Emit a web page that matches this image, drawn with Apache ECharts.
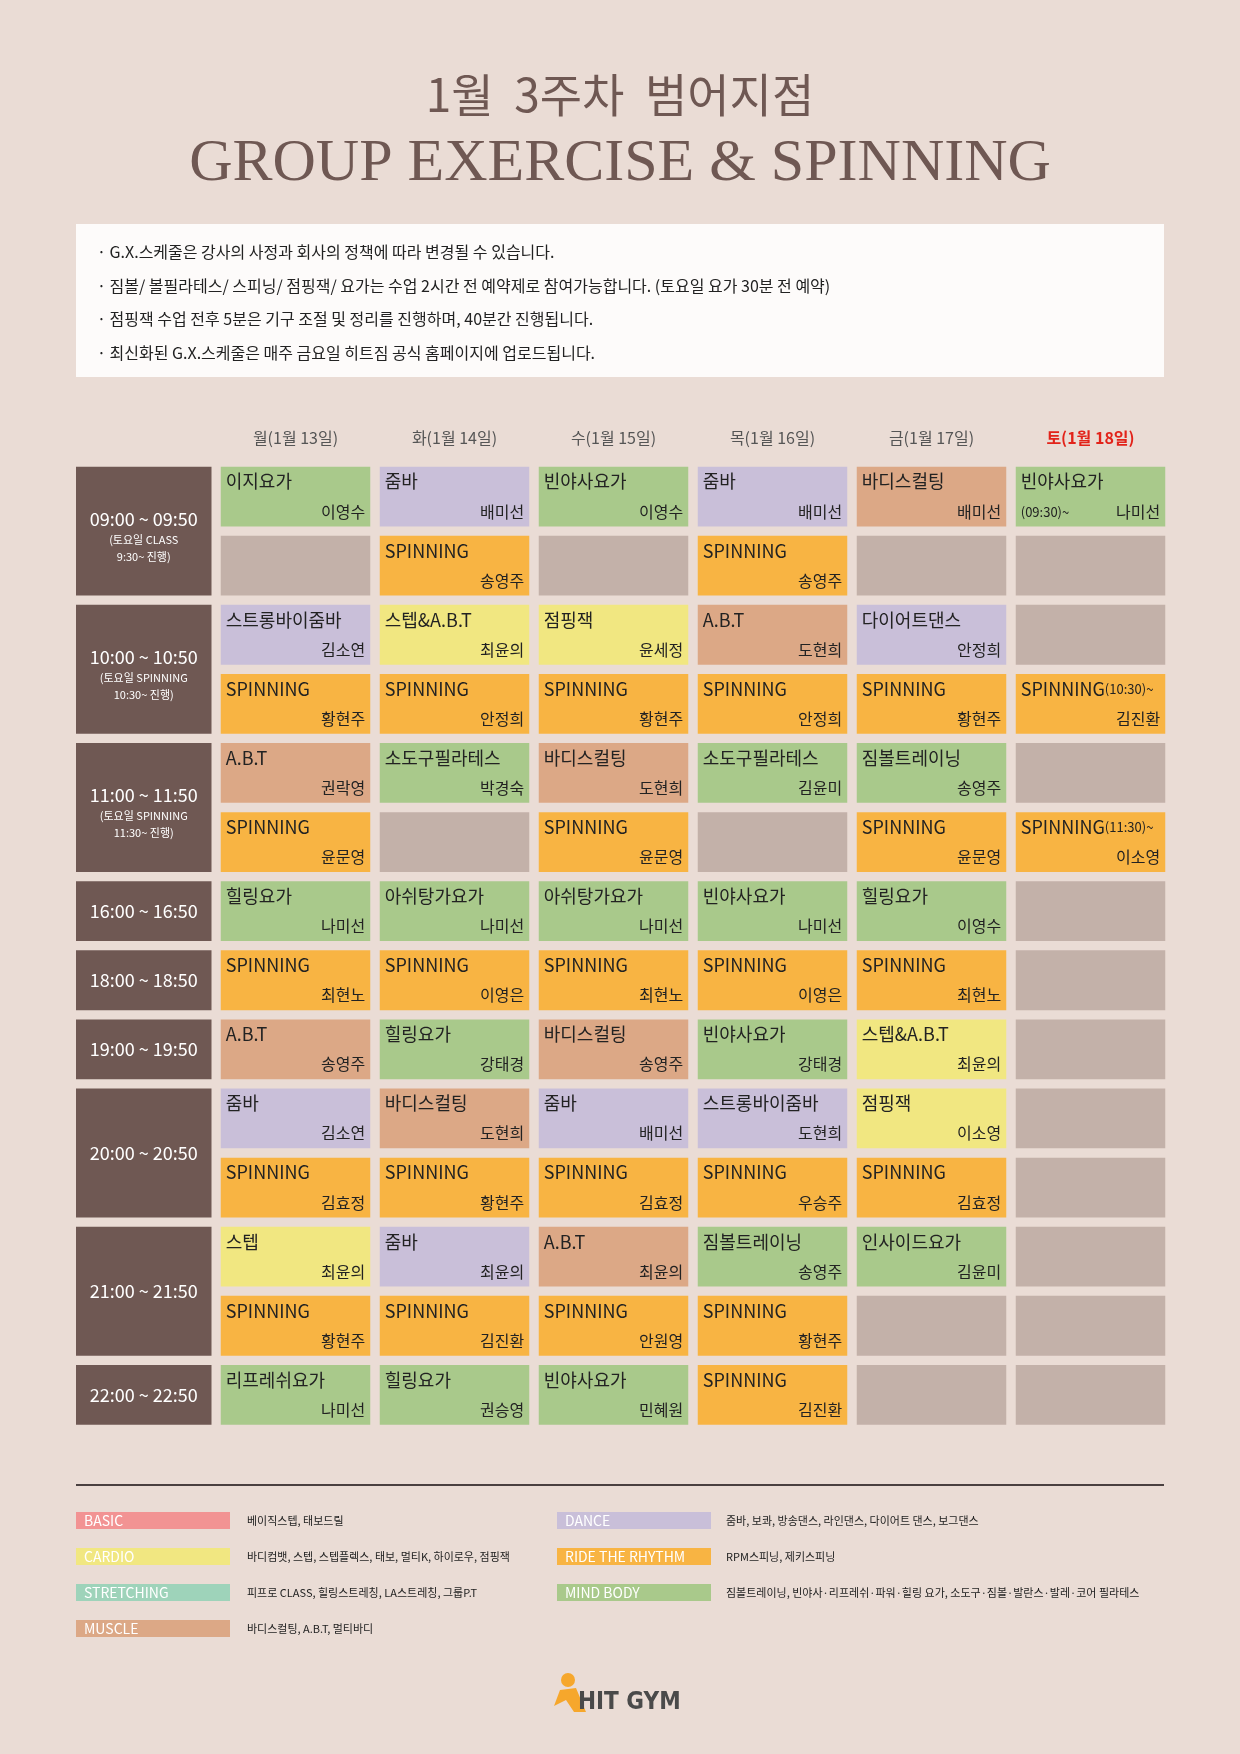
<!DOCTYPE html>
<html><head><meta charset="utf-8">
<script src="https://cdn.jsdelivr.net/npm/echarts@6/dist/echarts.min.js"></script>
<style>html,body{margin:0;padding:0;background:#eadcd5}#c{width:1240px;height:1754px}</style>
</head><body><div id="c"></div>
<script>
const days = ['월(1월 13일)','화(1월 14일)','수(1월 15일)','목(1월 16일)','금(1월 17일)','토(1월 18일)'];
const timeSlots = [
  ['09:00 ~ 09:50','(토요일 CLASS\n9:30~ 진행)',0,2],
  ['10:00 ~ 10:50','(토요일 SPINNING\n10:30~ 진행)',2,2],
  ['11:00 ~ 11:50','(토요일 SPINNING\n11:30~ 진행)',4,2],
  ['16:00 ~ 16:50','',6,1],
  ['18:00 ~ 18:50','',7,1],
  ['19:00 ~ 19:50','',8,1],
  ['20:00 ~ 20:50','',9,2],
  ['21:00 ~ 21:50','',11,2],
  ['22:00 ~ 22:50','',13,1]
];
// each row: [class, sub, instructor, type] per day; null = empty
const row0 = [['이지요가','','이영수','M'],['줌바','','배미선','D'],['빈야사요가','','이영수','M'],['줌바','','배미선','D'],['바디스컬팅','','배미선','U'],['빈야사요가','(09:30)~','나미선','M']];
const row1 = [null,['SPINNING','','송영주','R'],null,['SPINNING','','송영주','R'],null,null];
const row2 = [['스트롱바이줌바','','김소연','D'],['스텝&A.B.T','','최윤의','C'],['점핑잭','','윤세정','C'],['A.B.T','','도현희','U'],['다이어트댄스','','안정희','D'],null];
const row3 = [['SPINNING','','황현주','R'],['SPINNING','','안정희','R'],['SPINNING','','황현주','R'],['SPINNING','','안정희','R'],['SPINNING','','황현주','R'],['SPINNING','(10:30)~','김진환','R']];
const row4 = [['A.B.T','','권락영','U'],['소도구필라테스','','박경숙','M'],['바디스컬팅','','도현희','U'],['소도구필라테스','','김윤미','M'],['짐볼트레이닝','','송영주','M'],null];
const row5 = [['SPINNING','','윤문영','R'],null,['SPINNING','','윤문영','R'],null,['SPINNING','','윤문영','R'],['SPINNING','(11:30)~','이소영','R']];
const row6 = [['힐링요가','','나미선','M'],['아쉬탕가요가','','나미선','M'],['아쉬탕가요가','','나미선','M'],['빈야사요가','','나미선','M'],['힐링요가','','이영수','M'],null];
const row7 = [['SPINNING','','최현노','R'],['SPINNING','','이영은','R'],['SPINNING','','최현노','R'],['SPINNING','','이영은','R'],['SPINNING','','최현노','R'],null];
const row8 = [['A.B.T','','송영주','U'],['힐링요가','','강태경','M'],['바디스컬팅','','송영주','U'],['빈야사요가','','강태경','M'],['스텝&A.B.T','','최윤의','C'],null];
const row9 = [['줌바','','김소연','D'],['바디스컬팅','','도현희','U'],['줌바','','배미선','D'],['스트롱바이줌바','','도현희','D'],['점핑잭','','이소영','C'],null];
const row10 = [['SPINNING','','김효정','R'],['SPINNING','','황현주','R'],['SPINNING','','김효정','R'],['SPINNING','','우승주','R'],['SPINNING','','김효정','R'],null];
const row11 = [['스텝','','최윤의','C'],['줌바','','최윤의','D'],['A.B.T','','최윤의','U'],['짐볼트레이닝','','송영주','M'],['인사이드요가','','김윤미','M'],null];
const row12 = [['SPINNING','','황현주','R'],['SPINNING','','김진환','R'],['SPINNING','','안원영','R'],['SPINNING','','황현주','R'],null,null];
const row13 = [['리프레쉬요가','','나미선','M'],['힐링요가','','권승영','M'],['빈야사요가','','민혜원','M'],['SPINNING','','김진환','R'],null,null];
const rows = [row0,row1,row2,row3,row4,row5,row6,row7,row8,row9,row10,row11,row12,row13];
const notes = ['· G.X.스케줄은 강사의 사정과 회사의 정책에 따라 변경될 수 있습니다.',
 '· 짐볼/ 볼필라테스/ 스피닝/ 점핑잭/ 요가는 수업 2시간 전 예약제로 참여가능합니다. (토요일 요가 30분 전 예약)',
 '· 점핑잭 수업 전후 5분은 기구 조절 및 정리를 진행하며, 40분간 진행됩니다.',
 '· 최신화된 G.X.스케줄은 매주 금요일 히트짐 공식 홈페이지에 업로드됩니다.'];
const legendItems = [['BASIC','베이직스텝, 태보드릴','B'],['CARDIO','바디컴뱃, 스텝, 스텝플렉스, 태보, 멀티K, 하이로우, 점핑잭','C'],['STRETCHING','피프로 CLASS, 힐링스트레칭, LA스트레칭, 그룹P.T','S'],['MUSCLE','바디스컬팅, A.B.T, 멀티바디','U'],
 ['DANCE','줌바, 보콰, 방송댄스, 라인댄스, 다이어트 댄스, 보그댄스','D'],['RIDE THE RHYTHM','RPM스피닝, 제키스피닝','R'],['MIND BODY','짐볼트레이닝, 빈야사·리프레쉬·파워·힐링 요가, 소도구·짐볼·발란스·발레·코어 필라테스','M']];

const COL = {B:'#f29393',C:'#f1e781',S:'#9ed3ba',U:'#dca886',D:'#c9bfd9',R:'#f8b443',M:'#a9c98b'};
const EMPTY = '#c3b1a9', TIMEC = '#6f5853';
const FONT = '"Noto Sans CJK KR","Noto Sans",sans-serif';

const cellData = [];
rows.forEach((r,ri)=>r.forEach((c,di)=>cellData.push([di,ri,c?c[0]:'',c?c[1]:'',c?c[2]:'',c?c[3]:''])));
const timeData = timeSlots.map(t=>[0,t[2],t[0],t[1],t[3]]);

const chart = echarts.init(document.getElementById('c'),null,{renderer:'canvas'});
const GAPX=9.5, GAPY=9.3;
function renderCell(params, api){
  const di=api.value(0), ri=api.value(1);
  const p0=api.coord([di,ri]); const bw=api.size([1,0])[0]; const p1=api.coord([di,ri+1]);
  const x=p0[0]-bw/2+GAPX/2, y=p0[1]+GAPY/2, w=bw-GAPX, h=p1[1]-p0[1]-GAPY;
  const d=cellData[params.dataIndex];
  const fill=d[5]?COL[d[5]]:EMPTY;
  const ch=[{type:'rect',shape:{x,y,width:w,height:h},style:{fill}}];
  if(d[2]){
    ch.push({type:'text',style:{x:x+5,y:y+6,text:d[2]+(d[3]&&d[2]==='SPINNING'?'{s|'+d[3]+'}':''),
      rich:{s:{fontSize:13,fontFamily:FONT,fill:'#222'}},fontSize:18,fontFamily:FONT,fill:'#222',textVerticalAlign:'top'}});
    if(d[3]&&d[2]!=='SPINNING') ch.push({type:'text',style:{x:x+5,y:y+h-8,text:d[3],fontSize:13,fontFamily:FONT,fill:'#222',textVerticalAlign:'bottom'}});
    ch.push({type:'text',style:{x:x+w-5,y:y+h-7,text:d[4],fontSize:16,fontFamily:FONT,fill:'#222',textAlign:'right',textVerticalAlign:'bottom'}});
  }
  return {type:'group',children:ch};
}
function renderTime(params, api){
  const ri=api.value(1), n=api.value(4);
  const p0=api.coord([0,ri]); const bw=api.size([1,0])[0]; const p1=api.coord([0,ri+n]);
  const x=p0[0]-bw/2, y=p0[1]+GAPY/2, w=bw, h=p1[1]-p0[1]-GAPY;
  const d=timeData[params.dataIndex];
  const ch=[{type:'rect',shape:{x,y,width:w,height:h},style:{fill:TIMEC}}];
  const cy=y+h/2;
  if(d[3]){
    ch.push({type:'text',style:{x:x+w/2,y:cy-12,text:d[2],fontSize:18,fontFamily:FONT,fill:'#fff',textAlign:'center',textVerticalAlign:'middle'}});
    ch.push({type:'text',style:{x:x+w/2,y:cy+17,text:d[3],fontSize:11,lineHeight:17,fontFamily:FONT,fill:'#fff',textAlign:'center',textVerticalAlign:'middle'}});
  } else ch.push({type:'text',style:{x:x+w/2,y:cy,text:d[2],fontSize:18,fontFamily:FONT,fill:'#fff',textAlign:'center',textVerticalAlign:'middle'}});
  return {type:'group',children:ch};
}
const gTop=462, gH=14*69.1;
const graphics=[
  {type:'text',left:'center',top:72,style:{text:'1월  3주차  범어지점',fontSize:46,fontFamily:FONT,fontWeight:400,fill:'#6f5853'}},
  {type:'text',left:'center',top:134,style:{text:'GROUP EXERCISE & SPINNING',fontSize:60,fontFamily:'"Liberation Serif",serif',fill:'#6f5853'}},
  {type:'rect',shape:{x:76,y:224,width:1088,height:153},style:{fill:'#fdfbfa'}},
  {type:'line',shape:{x1:76,y1:1485,x2:1164,y2:1485},style:{stroke:'#4a4040',lineWidth:2}}
];
notes.forEach((t,i)=>graphics.push({type:'text',x:97,y:252+i*33.5,style:{text:t,fontSize:16,fontFamily:FONT,fill:'#222',textVerticalAlign:'middle'}}));
legendItems.forEach((l,i)=>{
  const col=i<4?0:1, r=i<4?i:i-4;
  const bx=col?557:76, dx=col?726:247, by=1512+r*36;
  graphics.push({type:'rect',shape:{x:bx,y:by,width:154,height:17},style:{fill:COL[l[2]]}});
  graphics.push({type:'text',x:bx+8,y:by+9,style:{text:l[0],fontSize:14,fontFamily:FONT,fill:'#fff',textVerticalAlign:'middle'}});
  graphics.push({type:'text',x:dx,y:by+9,style:{text:l[1],fontSize:11,fontFamily:FONT,fill:'#222',textVerticalAlign:'middle'}});
});
graphics.push({type:'circle',shape:{cx:568,cy:1680,r:7},style:{fill:'#f6a72c'}});
graphics.push({type:'polygon',shape:{points:[[560,1690],[576,1688],[586,1712],[574,1712],[566,1700],[554,1706]]},style:{fill:'#f6a72c'}});
graphics.push({type:'text',x:578,y:1703,style:{text:'HIT GYM',fontSize:24,fontWeight:'bold',fontFamily:'"Liberation Sans Narrow","DejaVu Sans Condensed",sans-serif',fill:'#4a4a4a',textVerticalAlign:'middle'}});

chart.setOption({
  backgroundColor:'#eadcd5',
  animation:false,
  graphic:graphics,
  grid:[{left:216,width:954,top:gTop,height:gH},{left:76,width:135.5,top:gTop,height:gH}],
  xAxis:[
    {type:'category',gridIndex:0,data:days,position:'top',axisLine:{show:false},axisTick:{show:false},
     axisLabel:{margin:16,fontSize:16,fontFamily:FONT,formatter:(v,i)=>i===5?'{r|'+v+'}':'{n|'+v+'}',
       rich:{n:{color:'#555',fontSize:16,fontFamily:FONT},r:{color:'#e2231a',fontSize:16,fontWeight:'bold',fontFamily:FONT}}}},
    {type:'category',gridIndex:1,data:['time'],show:false}
  ],
  yAxis:[
    {type:'value',gridIndex:0,min:0,max:14,inverse:true,show:false},
    {type:'value',gridIndex:1,min:0,max:14,inverse:true,show:false}
  ],
  series:[
    {type:'custom',xAxisIndex:0,yAxisIndex:0,renderItem:renderCell,data:cellData.map(d=>[d[0],d[1]])},
    {type:'custom',xAxisIndex:1,yAxisIndex:1,renderItem:renderTime,data:timeData.map(d=>[d[0],d[1],0,0,d[4]])}
  ]
});
</script></body></html>
